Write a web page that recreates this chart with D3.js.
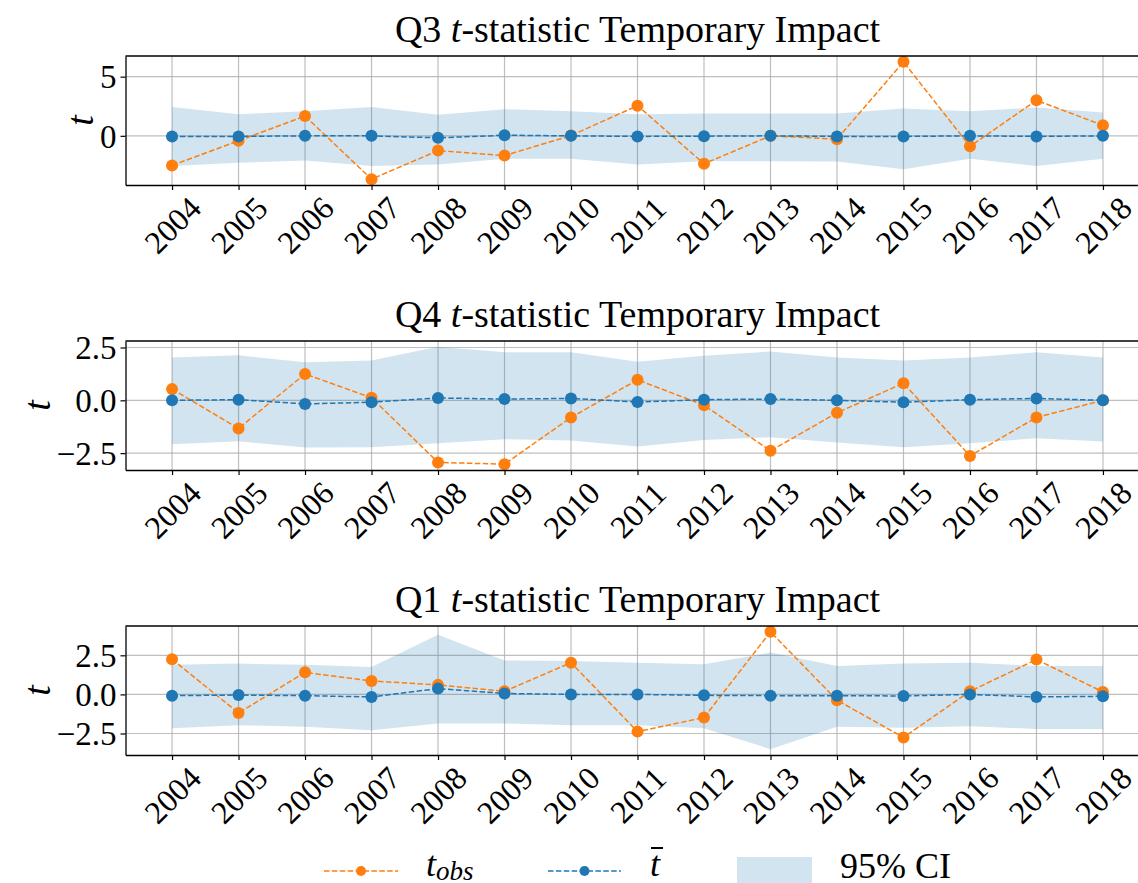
<!DOCTYPE html>
<html>
<head>
<meta charset="utf-8">
<script src="https://cdn.jsdelivr.net/npm/d3@7"></script>
<style>
  body { margin: 0; background: #fff; }
  text { font-family: "Liberation Serif", "DejaVu Serif", serif; fill: #000; }
</style>
</head>
<body>
<div id="chart"></div>
<script>
// years on the x axis
const years = [2004, 2005, 2006, 2007, 2008, 2009, 2010, 2011, 2012, 2013, 2014, 2015, 2016, 2017, 2018];

// Q3
const q3Obs  = [-2.5, -0.42, 1.67, -3.66, -1.25, -1.67, 0.02, 2.55, -2.36, 0.0, -0.28, 6.25, -0.89, 3.0, 0.89];
const q3Mean = [-0.05, -0.05, 0.0, 0.0, -0.17, 0.05, 0.0, -0.05, -0.03, 0.0, -0.05, -0.05, 0.0, -0.05, 0.0];
const q3Lo   = [-2.55, -2.28, -2.08, -2.55, -2.42, -1.94, -1.94, -2.42, -2.14, -2.14, -2.17, -2.83, -1.94, -2.55, -1.94];
const q3Hi   = [2.44, 1.83, 2.08, 2.44, 1.78, 2.25, 2.08, 1.83, 1.89, 1.89, 1.89, 2.3, 2.08, 2.39, 1.97];
const q3Ticks = [0, 5];

// Q4
const q4Obs  = [0.53, -1.33, 1.25, 0.12, -2.94, -3.02, -0.81, 0.97, -0.23, -2.39, -0.59, 0.81, -2.63, -0.81, 0.0];
const q4Mean = [0.0, 0.03, -0.17, -0.09, 0.11, 0.06, 0.09, -0.08, 0.03, 0.06, 0.0, -0.09, 0.03, 0.09, 0.0];
const q4Lo   = [-2.08, -1.94, -2.23, -2.22, -2.03, -1.84, -1.9, -2.19, -1.88, -1.75, -2.0, -2.22, -2.03, -1.8, -1.95];
const q4Hi   = [2.03, 2.13, 1.8, 1.88, 2.53, 2.27, 2.27, 1.83, 2.11, 2.31, 2.03, 1.88, 2.03, 2.27, 2.03];
const q4Ticks = [-2.5, 0, 2.5];

// Q1
const q1Obs  = [2.25, -1.19, 1.41, 0.86, 0.61, 0.2, 2.03, -2.38, -1.48, 4.0, -0.37, -2.75, 0.2, 2.23, 0.16];
const q1Mean = [-0.08, -0.04, -0.08, -0.16, 0.37, 0.06, 0.0, 0.0, -0.06, -0.08, -0.08, -0.1, 0.0, -0.16, -0.12];
const q1Lo   = [-2.17, -1.97, -2.07, -2.3, -1.86, -1.86, -1.97, -1.97, -2.17, -3.5, -2.07, -2.13, -2.03, -2.21, -2.21];
const q1Hi   = [1.89, 1.97, 1.89, 1.76, 3.81, 2.17, 2.13, 2.03, 1.93, 2.68, 1.82, 1.97, 2.03, 1.82, 1.82];
const q1Ticks = [-2.5, 0, 2.5];

const panels = [
  { name: 'Q3', obs: q3Obs, mean: q3Mean, lo: q3Lo, hi: q3Hi, ticks: q3Ticks, fmt: d3.format('d') },
  { name: 'Q4', obs: q4Obs, mean: q4Mean, lo: q4Lo, hi: q4Hi, ticks: q4Ticks, fmt: d3.format('.1f') },
  { name: 'Q1', obs: q1Obs, mean: q1Mean, lo: q1Lo, hi: q1Hi, ticks: q1Ticks, fmt: d3.format('.1f') }
];

const W = 1138, H = 883;
const ORANGE = '#ff7f0e', BLUE = '#1f77b4';

const svg = d3.select('#chart').append('svg')
  .attr('width', W).attr('height', H);

const left = 125.5, right = 1149.5;   // right spine falls outside the picture
const panelTop = [56, 341, 626];
const panelH = 129;

const x = d3.scaleLinear()
  .domain([years[0] - 0.7, years[years.length - 1] + 0.7])
  .range([left, right]);

panels.forEach((p, i) => {
  const top = panelTop[i];
  const bottom = top + panelH;

  const all = p.obs.concat(p.mean, p.lo, p.hi);
  const lo = d3.min(all), hi = d3.max(all);
  const pad = (hi - lo) * 0.05;
  const y = d3.scaleLinear().domain([lo - pad, hi + pad]).range([bottom, top]);

  const g = svg.append('g');

  // grid
  g.append('g').selectAll('line')
    .data(years).enter().append('line')
    .attr('x1', d => x(d)).attr('x2', d => x(d))
    .attr('y1', top).attr('y2', bottom)
    .attr('stroke', '#b0b0b0').attr('stroke-width', 1.2).attr('opacity', 0.8);
  g.append('g').selectAll('line')
    .data(p.ticks).enter().append('line')
    .attr('x1', left).attr('x2', right)
    .attr('y1', d => y(d)).attr('y2', d => y(d))
    .attr('stroke', '#b0b0b0').attr('stroke-width', 1.2).attr('opacity', 0.8);

  // confidence band
  const area = d3.area()
    .x((d, j) => x(years[j]))
    .y0((d, j) => y(p.lo[j]))
    .y1((d, j) => y(p.hi[j]));
  g.append('path')
    .datum(p.lo)
    .attr('d', area)
    .attr('fill', BLUE).attr('fill-opacity', 0.2);

  // series
  [[p.obs, ORANGE], [p.mean, BLUE]].forEach(([vals, col]) => {
    const line = d3.line().x((d, j) => x(years[j])).y(d => y(d));
    g.append('path')
      .datum(vals)
      .attr('d', line)
      .attr('fill', 'none').attr('stroke', col)
      .attr('stroke-width', 1.5).attr('stroke-dasharray', '5.5,2.4');
    g.selectAll(null)
      .data(vals).enter().append('circle')
      .attr('cx', (d, j) => x(years[j]))
      .attr('cy', d => y(d))
      .attr('r', 6).attr('fill', col);
  });

  // axes
  const xAxis = g.append('g')
    .attr('transform', `translate(0,${bottom})`)
    .call(d3.axisBottom(x).tickValues(years).tickFormat(d3.format('d')).tickSize(5).tickSizeOuter(0));
  xAxis.select('.domain').attr('stroke-width', 1.3);
  xAxis.selectAll('.tick line').attr('stroke-width', 1.2);
  xAxis.selectAll('.tick text')
    .attr('y', 0).attr('dy', null)
    .attr('transform', 'translate(0,40) rotate(-45)')
    .attr('text-anchor', 'middle')
    .attr('dominant-baseline', 'central')
    .style('font-size', '32px');

  const yAxis = g.append('g')
    .attr('transform', `translate(${left},0)`)
    .call(d3.axisLeft(y).tickValues(p.ticks).tickFormat(p.fmt).tickSize(5).tickSizeOuter(0));
  yAxis.select('.domain').attr('stroke-width', 1.3);
  yAxis.selectAll('.tick line').attr('stroke-width', 1.2);
  yAxis.selectAll('.tick text')
    .attr('x', -9).attr('dy', '0.34em')
    .style('font-size', '33px');

  // top spine
  g.append('line')
    .attr('x1', left).attr('x2', right)
    .attr('y1', top).attr('y2', top)
    .attr('stroke', '#000').attr('stroke-width', 1.3);

  // y label, placed left of the tick labels
  const bb = yAxis.node().getBBox();
  g.append('text')
    .attr('transform', `translate(${left + bb.x - 20},${(top + bottom) / 2}) rotate(-90)`)
    .attr('text-anchor', 'middle')
    .attr('dominant-baseline', 'central')
    .style('font-size', '38px').style('font-style', 'italic')
    .text('t');

  // title
  const t = g.append('text')
    .attr('x', (left + right) / 2).attr('y', top - 14)
    .attr('text-anchor', 'middle')
    .style('font-size', '38px');
  t.append('tspan').text(p.name + ' ');
  t.append('tspan').style('font-style', 'italic').text('t');
  t.append('tspan').text('-statistic Temporary Impact');
});

// legend
const legY = 871;
const leg = svg.append('g');
[[324, 398, ORANGE], [548, 621, BLUE]].forEach(([x1, x2, col]) => {
  leg.append('line')
    .attr('x1', x1).attr('x2', x2).attr('y1', legY).attr('y2', legY)
    .attr('stroke', col).attr('stroke-width', 1.5).attr('stroke-dasharray', '5.5,2.4');
  leg.append('circle')
    .attr('cx', (x1 + x2) / 2).attr('cy', legY).attr('r', 5).attr('fill', col);
});
leg.append('rect')
  .attr('x', 737).attr('y', 857).attr('width', 75).attr('height', 30)
  .attr('fill', BLUE).attr('fill-opacity', 0.2);

const l1 = leg.append('text').attr('x', 426).attr('y', 876).style('font-size', '36px');
l1.append('tspan').style('font-style', 'italic').text('t');
l1.append('tspan').attr('dy', 4).style('font-style', 'italic').style('font-size', '27px').text('obs');

const l2 = leg.append('text').attr('x', 650).attr('y', 876).style('font-size', '36px')
  .style('font-style', 'italic').text('t');
const tb = l2.node().getBBox();
leg.append('line')
  .attr('x1', tb.x + 1).attr('x2', tb.x + tb.width + 2)
  .attr('y1', tb.y + 4).attr('y2', tb.y + 4)
  .attr('stroke', '#000').attr('stroke-width', 2);

leg.append('text').attr('x', 840).attr('y', 878).style('font-size', '36px').text('95% CI');
</script>
</body>
</html>
